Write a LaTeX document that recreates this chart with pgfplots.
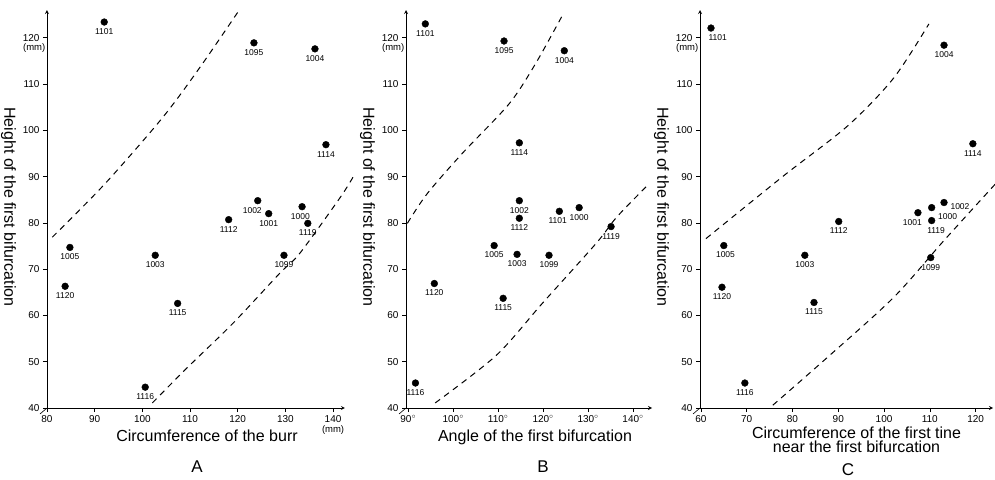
\documentclass[border=0pt]{standalone}
\usepackage{fontspec}
\setmainfont{Liberation Sans}
\usepackage{pgfplots}
\pgfplotsset{compat=1.18}

\pgfplotsset{
  panel/.style={
    scale only axis, height=398pt,
    ymin=40, ymax=126, ytick={40,50,...,120},
    axis lines=left, clip=false,
    tick align=outside, major tick length=4pt,
    axis line style={line width=0.8pt},
    every tick/.style={black, line width=0.6pt},
    /pgf/number format/assume math mode=true,
    tick label style={font=\fontsize{10}{12}\selectfont},
    label style={font=\fontsize{16}{19}\selectfont},
    ylabel={Height of the first bifurcation},
    ylabel style={at={(ticklabel cs:0.5)}, rotate=180, anchor=north, xshift=-2pt},
  },
  pts/.style={
    only marks, mark=*, mark size=3.4pt, black,
    nodes near coords, point meta=explicit symbolic,
    visualization depends on={value \thisrow{anc}\as\anc},
    nodes near coords style={font=\fontsize{8.5}{10}\selectfont,
      anchor=\anc, inner sep=0.5pt, outer sep=6pt},
  },
  bound/.style={black, line width=1pt, dash pattern=on 6pt off 5pt, smooth, no marks},
}
\tikzset{mmlab/.style={anchor=north east, font=\fontsize{9.5}{11}\selectfont, inner sep=0.5pt}}

\begin{document}
\begin{tikzpicture}
\path[use as bounding box] (0pt,0pt) rectangle (995pt,479pt);

% ---- A
\begin{axis}[panel, at={(47pt,71pt)}, anchor=south west, width=298pt,
  xmin=80, xmax=142.5, xtick={80,90,...,140},
  xlabel={Circumference of the burr}, xlabel style={xshift=11pt}]
\addplot[pts] table[meta=lab] {
x y lab anc
92.0 123.4 1101 90
123.4 118.9 1095 90
136.2 117.6 1004 90
138.5 96.9 1114 90
124.2 84.8 1002 60
126.5 82.0 1001 90
118.1 80.7 1112 90
133.5 83.5 1000 80
134.7 79.9 1119 90
84.8 74.7 1005 90
102.7 73.0 1003 90
129.7 73.0 1099 90
83.8 66.3 1120 90
107.4 62.6 1115 90
100.6 44.5 1116 90
};
\addplot[bound] coordinates {(81.1,76.9) (92.2,88.5) (104.2,102.7) (112,113.5) (120.2,125.8)};
\addplot[bound] coordinates {(102.1,41.1) (109.3,48.6) (119,58.3) (128.8,69.1) (133,73.4) (141.5,85.5) (144.3,90.1)};
\node[mmlab] at ([xshift=-1pt,yshift=-5pt]axis cs:80,120) {(mm)};
\node[font=\fontsize{9.5}{11}\selectfont] at ([yshift=-22pt]axis cs:140,40) {(mm)};
\draw[line width=0.6pt] ([xshift=-7pt,yshift=-6pt]axis cs:80,40) -- (axis cs:80,40);
\end{axis}

% ---- B
\begin{axis}[panel, at={(406pt,71pt)}, anchor=south west, width=246pt,
  xmin=89.5, xmax=144.2, xtick={90,100,...,140},
  xticklabels={90$^\circ$,100$^\circ$,110$^\circ$,120$^\circ$,130$^\circ$,140$^\circ$},
  xlabel={Angle of the first bifurcation}, xlabel style={xshift=6pt}]
\addplot[pts] table[meta=lab] {
x y lab anc
93.8 123.0 1101 90
111.3 119.3 1095 90
124.7 117.2 1004 90
114.7 97.3 1114 90
114.7 84.8 1002 90
114.7 81.0 1112 90
123.6 82.5 1101 80
128.0 83.3 1000 90
135.1 79.2 1119 90
109.1 75.1 1005 90
114.2 73.2 1003 90
121.3 73.0 1099 90
95.8 66.9 1120 90
111.1 63.7 1115 90
91.6 45.4 1116 90
};
\addplot[bound] coordinates {(89.8,79.9) (94.2,86.3) (102,95) (112.4,105.7) (118.3,114.4) (124.2,124.7)};
\addplot[bound] coordinates {(96,41.1) (109.6,51.4) (119.8,62.6) (131.8,75.6) (136.4,81.3) (143.6,88.5)};
\node[mmlab] at ([xshift=-1pt,yshift=-5pt]axis cs:89.5,120) {(mm)};
\draw[line width=0.6pt] ([xshift=-7pt,yshift=-6pt]axis cs:89.5,40) -- (axis cs:89.5,40);
\end{axis}

% ---- C
\begin{axis}[panel, at={(700pt,71pt)}, anchor=south west, width=293pt,
  xmin=59.8, xmax=123.8, xtick={60,70,...,120},
  xlabel={Circumference of the first tine\\near the first bifurcation},
  xlabel style={align=center, xshift=10pt, yshift=3pt, font=\fontsize{16}{14.5}\selectfont}]
\addplot[pts] table[meta=lab] {
x y lab anc
62.2 122.1 1101 125
113.1 118.4 1004 90
119.4 97.1 1114 90
90.1 80.3 1112 90
107.4 82.2 1001 60
110.4 83.3 1000 150
110.4 80.5 1119 115
113.1 84.4 1002 165
65.0 75.1 1005 100
82.7 73.0 1003 90
110.2 72.5 1099 90
64.6 66.1 1120 90
84.7 62.8 1115 90
69.6 45.4 1116 90
};
\addplot[bound] coordinates {(61.1,76.6) (78.1,90.2) (92.1,101) (102.1,111.3) (109.8,123)};
\addplot[bound] coordinates {(75.7,40.6) (87.7,51) (102.1,63.9) (113.1,76.2) (124.4,88.5)};
\node[mmlab] at ([xshift=-1pt,yshift=-5pt]axis cs:59.8,120) {(mm)};
\draw[line width=0.6pt] ([xshift=-7pt,yshift=-6pt]axis cs:59.8,40) -- (axis cs:59.8,40);
\end{axis}

\node[font=\fontsize{17}{20}\selectfont] at (197pt,12pt) {A};
\node[font=\fontsize{17}{20}\selectfont] at (543pt,12pt) {B};
\node[font=\fontsize{17}{20}\selectfont] at (848pt,9pt) {C};
\end{tikzpicture}
\end{document}
